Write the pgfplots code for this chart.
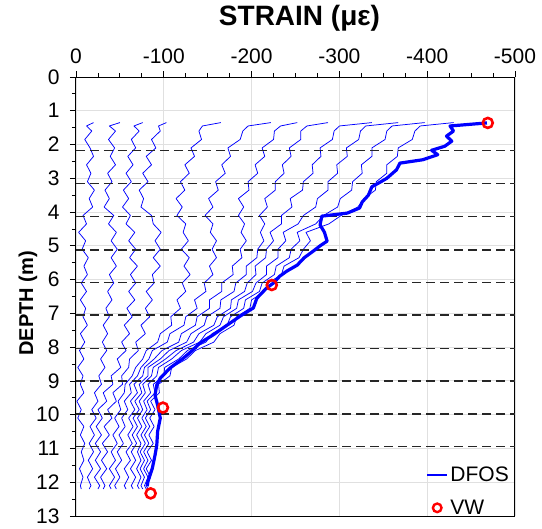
\documentclass[border=0pt]{standalone}
\usepackage{fontspec}
\setmainfont{Liberation Sans}
\usepackage{pgfplots}
\pgfplotsset{compat=1.18}
\usepackage{pgfplotstable}

\pgfplotstableread{
d p1 p2 p3 p4 p5 p6 p7 p8 p9 p10 p11 p12
1.35 -20 -50 -76 -103 -165 -222 -252 -287 -337 -367 -397 -430
1.45 -12 -38 -66 -94 -144 -196 -233 -263 -300 -330 -360 -392
1.6 -18 -45 -72 -96 -140 -190 -226 -256 -294 -324 -354 -386
1.85 -10 -37 -63 -86 -143 -187 -225 -256 -292 -322 -352 -383
2.1 -16 -44 -68 -91 -131 -173 -212 -243 -278 -308 -337 -367
2.35 -20 -39 -59 -80 -135 -176 -215 -245 -279 -309 -337 -366
2.6 -12 -45 -65 -86 -124 -166 -204 -235 -269 -297 -325 -354
2.85 -17 -36 -57 -76 -129 -170 -207 -237 -270 -298 -326 -354
3.1 -13 -41 -63 -82 -119 -159 -196 -227 -259 -287 -315 -342
3.35 -21 -33 -54 -72 -124 -162 -197 -227 -258 -287 -314 -341
3.6 -15 -38 -60 -77 -114 -151 -185 -215 -244 -275 -301 -328
3.85 -19 -32 -53 -74 -121 -156 -191 -218 -246 -273 -298 -321
4.1 -8 -43 -62 -86 -115 -147 -185 -209 -234 -259 -282 -302
4.35 -12 -37 -57 -88 -125 -156 -192 -215 -234 -253 -273 -288
4.6 -3 -46 -67 -97 -122 -153 -188 -210 -221 -236 -252 -262
4.85 -11 -40 -60 -90 -128 -160 -194 -214 -225 -239 -255 -267
5.1 -7 -47 -68 -96 -120 -155 -187 -207 -217 -230 -245 -259
5.35 -14 -40 -61 -88 -129 -160 -189 -206 -216 -230 -243 -254
5.6 -9 -46 -70 -96 -123 -152 -178 -194 -204 -217 -228 -237
5.85 -13 -38 -62 -87 -130 -156 -179 -194 -205 -217 -226 -234
6.1 -6 -43 -68 -89 -121 -146 -166 -182 -195 -205 -212 -219
6.35 -12 -36 -60 -80 -125 -148 -166 -180 -192 -201 -209 -215
6.6 -5 -41 -67 -87 -115 -135 -152 -165 -177 -185 -193 -200
6.85 -11 -34 -58 -79 -119 -138 -152 -164 -176 -183 -191 -198
7.1 -8 -38 -64 -84 -108 -125 -138 -149 -161 -168 -176 -183
7.35 -13 -31 -55 -74 -109 -123 -136 -146 -157 -164 -172 -180
7.6 -5 -36 -61 -79 -96 -107 -120 -131 -140 -148 -155 -164
7.85 -10 -30 -52 -68 -93 -104 -117 -126 -134 -141 -148 -157
8.1 -4 -35 -57 -71 -80 -87 -98 -106 -114 -120 -127 -136
8.35 -9 -28 -47 -61 -76 -83 -89 -96 -102 -109 -117 -126
8.6 -2 -33 -51 -60 -68 -74 -78 -82 -88 -94 -101 -109
8.85 -8 -26 -40 -52 -64 -70 -76 -82 -86 -92 -100 -107
9.1 -5 -29 -42 -53 -56 -61 -66 -72 -76 -82 -88 -94
9.35 -9 -21 -31 -42 -55 -63 -70 -75 -79 -85 -90 -95
9.6 -1 -25 -35 -46 -48 -55 -62 -67 -72 -77 -81 -85
9.85 -6 -18 -25 -36 -51 -59 -67 -72 -76 -81 -85 -90
10.1 -2 -23 -30 -41 -44 -52 -60 -65 -70 -75 -79 -84
10.35 -9 -16 -23 -32 -49 -56 -65 -70 -75 -80 -84 -89
10.6 -5 -21 -29 -38 -42 -49 -59 -64 -69 -74 -78 -83
10.85 -10 -15 -22 -30 -47 -54 -64 -69 -74 -79 -83 -88
11.1 -6 -20 -28 -36 -40 -47 -57 -63 -70 -73 -77 -81
11.35 -9 -14 -22 -29 -45 -52 -62 -68 -74 -78 -82 -86
11.6 -4 -19 -28 -35 -38 -45 -55 -62 -69 -73 -77 -80
11.85 -8 -13 -21 -28 -44 -50 -60 -68 -74 -78 -82 -85
12.1 -5 -17 -27 -33 -38 -44 -55 -63 -70 -74 -78 -80
12.2 -6 -15 -25 -31 -40 -46 -57 -65 -72 -76 -80 -82
}\profiles

\pgfplotstableread{
x y
-468 1.36
-426 1.45
-430 1.6
-422 1.75
-428 1.9
-420 2.05
-405 2.17
-412 2.3
-395 2.45
-369 2.55
-365 2.75
-354 3.0
-344 3.15
-337 3.25
-333 3.5
-326 3.7
-323 3.88
-309 4.03
-280 4.12
-278 4.38
-283 4.6
-286 4.86
-278 5.0
-270 5.16
-260 5.35
-252 5.57
-240 5.75
-232 5.9
-225 6.1
-217 6.25
-206 6.55
-202 6.84
-187 7.08
-172 7.35
-156 7.64
-141 7.88
-133 8.09
-122 8.33
-107 8.62
-96 8.92
-92 9.12
-90 9.42
-93 9.72
-96 10.1
-93 10.49
-92 10.9
-90 11.2
-87 11.58
-82 11.97
-81 12.12
}\final

\begin{document}
\begin{tikzpicture}
\begin{axis}[name=ax,
  width=439pt, height=439pt, scale only axis,
  x dir=reverse, y dir=reverse,
  xmin=-500, xmax=0, ymin=0, ymax=13,
  xtick={-500,-400,-300,-200,-100,0},
  ytick={0,1,2,3,4,5,6,7,8,9,10,11,12,13},
  minor x tick num=3, minor y tick num=1,
  xticklabel pos=right, xtick pos=right, ytick pos=left,
  tick align=outside, major tick length=6pt, minor tick length=4pt,
  grid=major, major grid style={black!12, line width=0.9pt},
  tick style={black, line width=0.8pt},
  axis line style={line width=1pt},
  ticklabel style={font=\fontsize{21}{23}\selectfont},
  xticklabel style={yshift=4pt},
  yticklabel style={xshift=-7pt},
  /pgf/number format/assume math mode=true,
  legend style={draw=none, fill=none, at={(1,0)}, anchor=south east,
    xshift=-4pt, yshift=-2pt, font=\fontsize{21}{23}\selectfont,
    row sep=13pt, inner sep=0pt},
  legend cell align=left,
]
\pgfplotsinvokeforeach{1,...,12}{
  \addplot[blue, line width=0.75pt, line join=round, forget plot] table[x=p#1, y=d]{\profiles};
}
\pgfplotsinvokeforeach{2.18,3.15,4.13,5.12,6.08,7.05,8.03,9.0,9.98,10.94}{
  \addplot[black!85, line width=1.3pt, dash pattern=on 9pt off 5pt, forget plot] coordinates {(0,#1) (-500,#1)};
}
\addplot[blue, line width=3.2pt, line join=round,
  legend image code/.code={\draw[blue, line width=2.5pt] (0pt,0pt) -- (20pt,0pt);}]
  table[x=x, y=y]{\final};
\addlegendentry{DFOS}
\addplot[only marks, mark=o, red, mark size=5pt, line width=2.6pt, mark options={fill=white},
  legend image code/.code={\draw[red, line width=2.4pt, fill=white] (10pt,0pt) circle (4.3pt);}]
  coordinates {(-469,1.36) (-223,6.16) (-99,9.79) (-85,12.33)};
\addlegendentry{VW}
\end{axis}
\node[font=\fontsize{28}{30}\selectfont\bfseries, anchor=base] at ([xshift=4pt,yshift=51pt]ax.north) {STRAIN (με)};
\node[font=\fontsize{20}{24}\selectfont\bfseries, rotate=90, anchor=center] at ([xshift=-48pt,yshift=-7pt]ax.west) {DEPTH (m)};
\pgfresetboundingbox
\path[use as bounding box] ([xshift=-76pt,yshift=-12pt]ax.south west) rectangle ([xshift=27pt,yshift=77pt]ax.north east);
\end{tikzpicture}
\end{document}
